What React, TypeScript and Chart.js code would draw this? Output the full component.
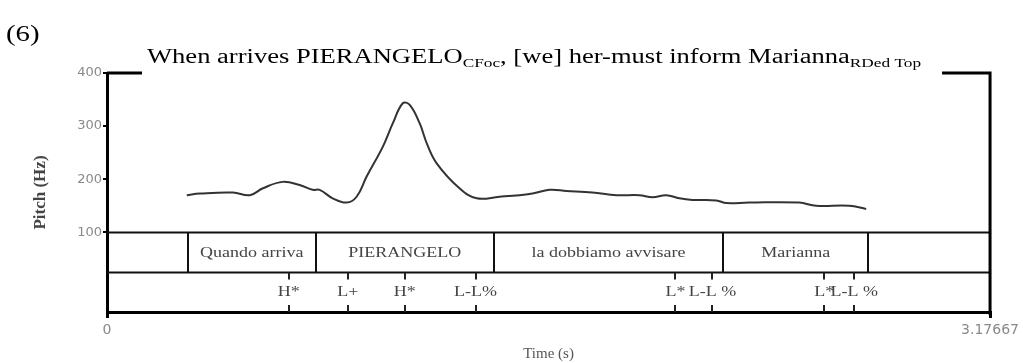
import React, { useEffect, useRef } from "react";
import { Chart, registerables } from "chart.js";

Chart.register(...registerables);

// ---- data ----
const pitchTimes = [0.287, 0.334, 0.453, 0.514, 0.561, 0.632, 0.693, 0.74, 0.765, 0.812, 0.862, 0.898, 0.934, 0.992, 1.028, 1.064, 1.089, 1.125, 1.15, 1.186, 1.268, 1.33, 1.412, 1.484, 1.531, 1.592, 1.653, 1.746, 1.833, 1.915, 1.962, 2.012, 2.059, 2.106, 2.192, 2.228, 2.31, 2.49, 2.551, 2.67, 2.731];
const pitchValues = [170, 173, 175, 170, 183, 195, 189, 180, 180, 164, 156, 167, 205, 261, 305, 343, 340, 305, 268, 230, 183, 164, 167, 170, 173, 180, 178, 175, 170, 170, 166, 170, 164, 161, 160, 155, 156, 156, 150, 150, 144];
const wordBoundaries = [0.291, 0.751, 1.391, 2.217, 2.738];
const wordLabels = ["Quando arriva", "PIERANGELO", "la dobbiamo avvisare", "Marianna"];
const toneTimes = [0.654, 0.866, 1.071, 1.326, 2.045, 2.178, 2.58, 2.688];
const toneLabels = ["H*", "L+", "H*", "L-L%", "L*", "L-L %", "L*", "L-L %"];
const yTickValues = [100, 200, 300, 400];
const xTickValues = [0, 3.17667];
const timeMax = 3.17667;
const pitchMin = -50;
const pitchMax = 400;
const wordTierTop = 100;
const toneTierTop = 25;
const titleParts = [
  { text: "When arrives PIERANGELO", sub: false },
  { text: "CFoc", sub: true },
  { text: ", [we] her-must inform Marianna", sub: false },
  { text: "RDed Top", sub: true },
];
const exampleNumber = "(6)";

const SERIF = "'Liberation Serif', 'Times New Roman', serif";

function stretchText(ctx: CanvasRenderingContext2D, text: string, x: number, y: number, sx: number) {
  ctx.save();
  ctx.translate(x, y);
  ctx.scale(sx, 1);
  ctx.fillText(text, 0, 0);
  ctx.restore();
}

const tierPlugin = {
  id: "tiers",
  afterDraw(chart: any) {
    const { ctx, chartArea, scales } = chart;
    const x = scales.x;
    const y = scales.y;
    const left = chartArea.left;
    const right = chartArea.right;
    const yW = Math.round(y.getPixelForValue(wordTierTop)) + 0.5;
    const yT = Math.round(y.getPixelForValue(toneTierTop)) + 0.5;
    const yB = chartArea.bottom;
    ctx.save();
    ctx.strokeStyle = "#111";
    ctx.lineWidth = 2;
    ctx.beginPath();
    ctx.moveTo(left, yW);
    ctx.lineTo(right, yW);
    ctx.moveTo(left, yT);
    ctx.lineTo(right, yT);
    ctx.stroke();

    // word boundaries
    ctx.lineWidth = 2;
    ctx.beginPath();
    wordBoundaries.forEach((t) => {
      const px = Math.round(x.getPixelForValue(t));
      ctx.moveTo(px, yW);
      ctx.lineTo(px, yT);
    });
    ctx.stroke();

    ctx.fillStyle = "#444";
    ctx.font = `15px ${SERIF}`;
    ctx.textAlign = "center";
    ctx.textBaseline = "middle";
    wordLabels.forEach((lab, i) => {
      const cx = (x.getPixelForValue(wordBoundaries[i]) + x.getPixelForValue(wordBoundaries[i + 1])) / 2;
      stretchText(ctx, lab, cx, (yW + yT) / 2 + 1, 1.2);
    });

    // tone ticks
    ctx.lineWidth = 2;
    ctx.strokeStyle = "#222";
    ctx.beginPath();
    toneTimes.forEach((t) => {
      const px = Math.round(x.getPixelForValue(t));
      ctx.moveTo(px, yT);
      ctx.lineTo(px, yT + 7);
      ctx.moveTo(px, yB - 7);
      ctx.lineTo(px, yB);
    });
    ctx.stroke();
    toneTimes.forEach((t, i) => {
      stretchText(ctx, toneLabels[i], x.getPixelForValue(t), (yT + yB) / 2, 1.2);
    });

    // right frame and top segments
    ctx.strokeStyle = "#000";
    ctx.lineWidth = 3;
    ctx.beginPath();
    ctx.moveTo(right, chartArea.top - 1.5);
    ctx.lineTo(right, yB + 3);
    ctx.moveTo(left, chartArea.top);
    ctx.lineTo(left + 35, chartArea.top);
    ctx.moveTo(right - 48, chartArea.top);
    ctx.lineTo(right, chartArea.top);
    ctx.stroke();

    // title
    ctx.fillStyle = "#000";
    ctx.textAlign = "left";
    ctx.textBaseline = "alphabetic";
    const mainFont = `20px ${SERIF}`;
    const subFont = `13px ${SERIF}`;
    let total = 0;
    titleParts.forEach((p) => {
      ctx.font = p.sub ? subFont : mainFont;
      total += ctx.measureText(p.text).width;
    });
    const titleLeft = left + 40;
    const titleWidth = right - 69 - titleLeft;
    const sx = titleWidth / total;
    let cursor = titleLeft;
    const baseline = chartArea.top - 10;
    titleParts.forEach((p) => {
      ctx.font = p.sub ? subFont : mainFont;
      const w = ctx.measureText(p.text).width * sx;
      stretchText(ctx, p.text, cursor, baseline + (p.sub ? 4 : 0), sx);
      cursor += w;
    });
    ctx.font = `24px ${SERIF}`;
    stretchText(ctx, exampleNumber, 6, 41, 1.2);
    ctx.restore();
  },
};

export default function App() {
  const ref = useRef<HTMLCanvasElement | null>(null);
  useEffect(() => {
    if (!ref.current) return;
    const chart = new Chart(ref.current, {
      type: "line",
      data: {
        datasets: [
          {
            data: pitchTimes.map((t, i) => ({ x: t, y: pitchValues[i] })),
            borderColor: "#333",
            borderWidth: 2,
            pointRadius: 0,
            tension: 0.4,
            fill: false,
          },
        ],
      },
      options: {
        animation: false,
        responsive: false,
        devicePixelRatio: 1,
        layout: { padding: { top: 73, right: 32, left: 0, bottom: 0 } },
        plugins: { legend: { display: false }, tooltip: { enabled: false }, title: { display: false } },
        scales: {
          x: {
            type: "linear",
            min: 0,
            max: timeMax,
            afterBuildTicks: (s: any) => {
              s.ticks = xTickValues.map((v) => ({ value: v }));
            },
            afterFit: (s: any) => {
              s.height = 51;
            },
            ticks: {
              callback: (v: any) => String(v),
              color: "#8a8a8a",
              font: { family: "'DejaVu Sans', sans-serif", size: 14 },
              padding: 4,
              maxRotation: 0,
              autoSkip: false,
            },
            grid: { drawOnChartArea: false, drawTicks: true, tickLength: 6, color: "#000", lineWidth: 3 },
            border: { display: true, color: "#000", width: 3 },
            title: {
              display: true,
              text: "Time (s)",
              color: "#555",
              font: { family: SERIF, size: 15 },
              padding: { top: 0, bottom: 0 },
            },
          },
          y: {
            type: "linear",
            min: pitchMin,
            max: pitchMax,
            afterBuildTicks: (s: any) => {
              s.ticks = yTickValues.map((v) => ({ value: v }));
            },
            afterFit: (s: any) => {
              s.width = 107;
            },
            ticks: {
              callback: (v: any) => String(v),
              color: "#8a8a8a",
              font: { family: "'DejaVu Sans', sans-serif", size: 13 },
              padding: 1,
            },
            grid: { drawOnChartArea: false, drawTicks: true, tickLength: 4, color: "#000", lineWidth: 2 },
            border: { display: true, color: "#000", width: 3 },
            title: {
              display: true,
              text: "Pitch (Hz)",
              color: "#444",
              font: { family: SERIF, size: 17, weight: "bold" },
              padding: { top: 30, bottom: 0 },
            },
          },
        },
      },
      plugins: [tierPlugin],
    } as any);
    return () => chart.destroy();
  }, []);
  return (
    <div style={{ position: "absolute", left: 0, top: 0, width: 1023, height: 363, background: "#fff" }}>
      <canvas ref={ref} width={1023} height={363} style={{ display: "block" }} />
    </div>
  );
}
